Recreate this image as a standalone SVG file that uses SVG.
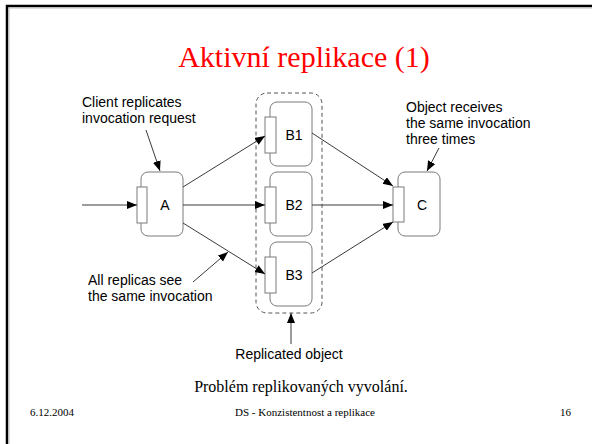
<svg xmlns="http://www.w3.org/2000/svg" width="592" height="444" viewBox="0 0 592 444">
<style>
.box{fill:#fff;stroke:#7a7a7a;stroke-width:1}
.port{fill:#fff;stroke:#7a7a7a;stroke-width:1}
.lbl{font-family:"Liberation Sans",Arial,sans-serif;font-size:14px;fill:#000}
.nl{font-family:"Liberation Sans",Arial,sans-serif;font-size:14px;fill:#000;text-anchor:middle}
.ser{font-family:"Liberation Serif","Times New Roman",serif;fill:#000}
.con{stroke:#3a3a3a;stroke-width:1;fill:none;marker-end:url(#ah)}
</style>
<defs>
<marker id="ah" markerUnits="userSpaceOnUse" markerWidth="11" markerHeight="9" refX="10" refY="4" orient="auto">
<path d="M0,0 L10,4 L0,8 z" fill="#000"/>
</marker>
</defs>
<rect x="0" y="0" width="592" height="444" fill="#fff"/>
<g id="frame">
<path d="M7,444 L7,6 L592,6" fill="none" stroke="#000" stroke-width="2.5"/>
<path d="M9,444 L9,8 L592,8" fill="none" stroke="#bbb" stroke-width="1"/>
</g>
<text x="304" y="67" class="ser" font-size="30" fill="#ff0000" style="fill:#ff0000" text-anchor="middle">Aktivní replikace (1)</text>

<g id="replicated-group">
<rect x="256" y="93" width="66" height="220" rx="11" fill="none" stroke="#555" stroke-width="1" stroke-dasharray="4,3"/>
</g>

<g id="nodeA">
<rect class="box" x="141" y="172" width="42" height="64" rx="7"/>
<rect class="port" x="137" y="187" width="10" height="36"/>
<text class="nl" x="165" y="210">A</text>
</g>
<g id="nodeB1">
<rect class="box" x="270" y="102" width="42" height="64" rx="7"/>
<rect class="port" x="265" y="117" width="11" height="36"/>
<text class="nl" x="294" y="140">B1</text>
</g>
<g id="nodeB2">
<rect class="box" x="270" y="172" width="42" height="64" rx="7"/>
<rect class="port" x="265" y="187" width="11" height="36"/>
<text class="nl" x="294" y="210">B2</text>
</g>
<g id="nodeB3">
<rect class="box" x="270" y="242" width="42" height="64" rx="7"/>
<rect class="port" x="265" y="257" width="11" height="36"/>
<text class="nl" x="294" y="280">B3</text>
</g>
<g id="nodeC">
<rect class="box" x="398" y="172" width="42" height="64" rx="7"/>
<rect class="port" x="393" y="187" width="11" height="35"/>
<text class="nl" x="422" y="210">C</text>
</g>

<g id="connectors">
<path class="con" d="M82,205 L137,205"/>
<path class="con" d="M183,187 L265,136"/>
<path class="con" d="M183,205 L265,205"/>
<path class="con" d="M183,223 L265,274"/>
<path class="con" d="M312,133 L393,186"/>
<path class="con" d="M312,205 L393,205"/>
<path class="con" d="M312,273 L393,222"/>
<path class="con" d="M146,130 L160,171"/>
<path class="con" d="M193,282 L228,252"/>
<path class="con" d="M291,344 L291,313"/>
<path class="con" d="M439,148 L427,171"/>
</g>

<g id="labels">
<text class="lbl" x="82" y="107">Client replicates</text>
<text class="lbl" x="82" y="123">invocation request</text>
<text class="lbl" x="406" y="112">Object receives</text>
<text class="lbl" x="406" y="128">the same invocation</text>
<text class="lbl" x="406" y="144">three times</text>
<text class="lbl" x="88" y="285">All replicas see</text>
<text class="lbl" x="88" y="301">the same invocation</text>
<text class="nl" x="289" y="359">Replicated object</text>
</g>

<text class="ser" x="301" y="392" font-size="16" text-anchor="middle">Problém replikovaných vyvolání.</text>
<text class="ser" x="30" y="416" font-size="11">6.12.2004</text>
<text class="ser" x="305" y="416" font-size="11" text-anchor="middle">DS - Konzistentnost a replikace</text>
<text class="ser" x="571" y="416" font-size="11" text-anchor="end">16</text>
</svg>
